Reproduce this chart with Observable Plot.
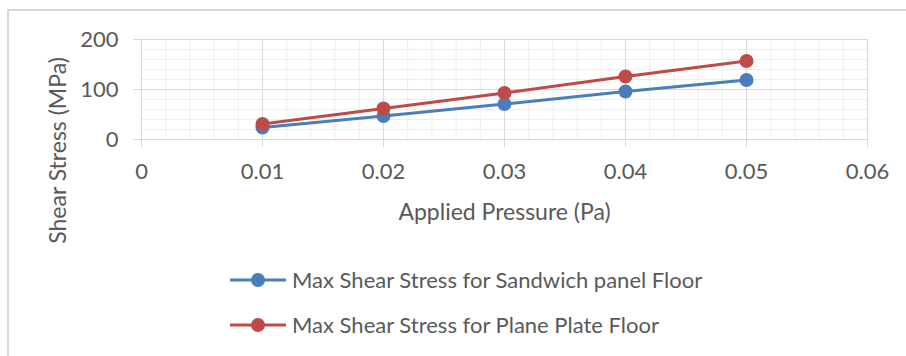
<!DOCTYPE html>
<html>
<head>
<meta charset="utf-8">
<script src="https://cdn.jsdelivr.net/npm/d3@7"></script>
<script src="https://cdn.jsdelivr.net/npm/@observablehq/plot@0.6"></script>
<style>
  html, body { margin: 0; padding: 0; background: #fff; overflow: hidden; }
  #wrap { position: relative; width: 906px; height: 356px; font-family: Lato, "Open Sans", sans-serif; color: #595959; }
  #frame { position: absolute; left: 7px; top: 9px; width: 1000px; height: 1000px;
           border-left: 2px solid #d9d9d9; border-top: 2px solid #d9d9d9; }
  #chart { position: absolute; left: 0; top: 0; }
  #legend { position: absolute; left: 230px; top: 257px; }
  .item { display: flex; align-items: center; height: 45px; font-size: 22px; }
  .item svg { margin-right: 6px; }
</style>
</head>
<body>
<div id="wrap">
  <div id="frame"></div>
  <div id="chart"></div>
  <div id="legend"></div>
</div>
<script>
// ---- data ----
const pressure = [0.01, 0.02, 0.03, 0.04, 0.05];
const sandwichStress = [24, 47, 71, 96, 119];
const plateStress = [31, 62, 93, 126, 157];
const seriesNames = ["Max Shear Stress for Sandwich panel Floor", "Max Shear Stress for Plane Plate Floor"];
const seriesColors = ["#4A7EBB", "#BE4B48"];
const xTicks = [0, 0.01, 0.02, 0.03, 0.04, 0.05, 0.06];
const xTickLabels = ["0", "0.01", "0.02", "0.03", "0.04", "0.05", "0.06"];
const yTicks = [0, 100, 200];
const xTitle = "Applied Pressure (Pa)";
const yTitle = "Shear Stress (MPa)";

const rows = [];
pressure.forEach((p, i) => rows.push({x: p, y: sandwichStress[i], s: seriesNames[0]}));
pressure.forEach((p, i) => rows.push({x: p, y: plateStress[i], s: seriesNames[1]}));

const chart = Plot.plot({
  width: 906,
  height: 260,
  marginLeft: 141,
  marginRight: 39,
  marginTop: 39,
  marginBottom: 121,
  style: {fontFamily: "Lato, 'Open Sans', sans-serif", fontSize: "22px", color: "#595959", background: "transparent", overflow: "visible"},
  x: {domain: [0, 0.06]},
  y: {domain: [0, 200]},
  color: {domain: seriesNames, range: seriesColors},
  marks: [
    Plot.gridX({ticks: 30, stroke: "#eeeeee", strokeOpacity: 1}),
    Plot.gridY({ticks: 10, stroke: "#eeeeee", strokeOpacity: 1}),
    Plot.gridX(xTicks, {stroke: "#d9d9d9", strokeOpacity: 1}),
    Plot.gridY(yTicks, {stroke: "#d9d9d9", strokeOpacity: 1}),
    Plot.axisX(xTicks, {tickSize: 8, tickPadding: 16, stroke: "#d9d9d9", fill: "#595959",
      tickFormat: (d, i) => xTickLabels[i], label: null, fontSize: 22}),
    Plot.axisY(yTicks, {tickSize: 8, tickPadding: 15, stroke: "#d9d9d9", fill: "#595959",
      tickFormat: d => String(d), label: null, fontSize: 22}),
    Plot.text([xTitle], {frameAnchor: "bottom", dy: 73, textAnchor: "middle", lineAnchor: "middle", fontSize: 23, fill: "#595959"}),
    Plot.text([yTitle], {frameAnchor: "left", dx: -83, dy: 61, rotate: -90, textAnchor: "middle", lineAnchor: "middle", fontSize: 23, fill: "#595959"}),
    Plot.line(rows, {x: "x", y: "y", z: "s", stroke: "s", strokeWidth: 3}),
    Plot.dot(rows, {x: "x", y: "y", fill: "s", r: 7})
  ]
});
document.getElementById("chart").appendChild(chart);

const legend = document.getElementById("legend");
seriesNames.forEach((name, i) => {
  const item = document.createElement("div");
  item.className = "item";
  item.innerHTML = `<svg width="56" height="20"><line x1="0" x2="56" y1="10" y2="10" stroke="${seriesColors[i]}" stroke-width="3"/><circle cx="28" cy="10" r="7" fill="${seriesColors[i]}"/></svg><span></span>`;
  item.querySelector("span").textContent = name;
  legend.appendChild(item);
});
</script>
</body>
</html>
